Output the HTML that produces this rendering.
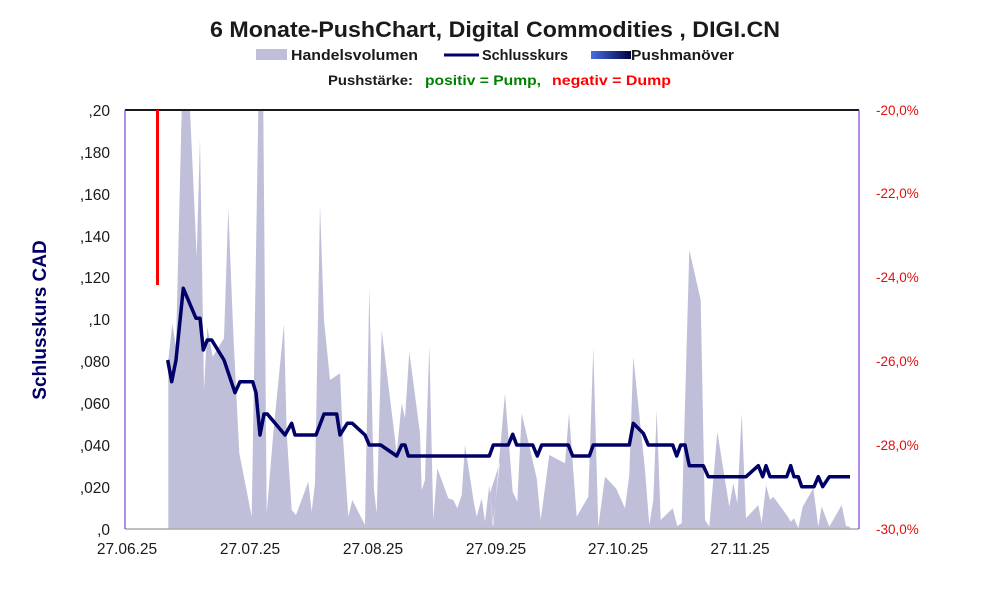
<!DOCTYPE html>
<html><head><meta charset="utf-8"><style>
body{margin:0;background:#fff;}
svg{display:block;font-family:"Liberation Sans",sans-serif;}
</style></head><body>
<svg id="s" width="991" height="593" viewBox="0 0 991 593" xmlns="http://www.w3.org/2000/svg">
<rect width="991" height="593" fill="#fff"/>
<text x="210" y="37" textLength="570" lengthAdjust="spacingAndGlyphs" font-size="22" font-weight="bold" fill="#1a1a1a">6 Monate-PushChart, Digital Commodities , DIGI.CN</text>
<rect x="256" y="49" width="31" height="11" fill="#bfbfd9"/>
<text x="291" y="60" textLength="127" lengthAdjust="spacingAndGlyphs" font-size="15" font-weight="bold" fill="#1a1a1a">Handelsvolumen</text>
<line x1="444" y1="55" x2="479" y2="55" stroke="#000066" stroke-width="3"/>
<text x="482" y="60" textLength="86" lengthAdjust="spacingAndGlyphs" font-size="15" font-weight="bold" fill="#1a1a1a">Schlusskurs</text>
<defs><linearGradient id="g" x1="0" x2="1"><stop offset="0" stop-color="#4a6ee0"/><stop offset="1" stop-color="#000044"/></linearGradient></defs>
<rect x="591" y="51" width="40" height="8" fill="url(#g)"/>
<text x="631" y="60" textLength="103" lengthAdjust="spacingAndGlyphs" font-size="15" font-weight="bold" fill="#1a1a1a">Pushmanöver</text>
<text x="328" y="85" textLength="85" lengthAdjust="spacingAndGlyphs" font-size="14" font-weight="bold" fill="#1a1a1a">Pushstärke:</text>
<text x="425" y="85" textLength="116" lengthAdjust="spacingAndGlyphs" font-size="14" font-weight="bold" fill="#008000">positiv = Pump,</text>
<text x="552" y="85" textLength="119" lengthAdjust="spacingAndGlyphs" font-size="14" font-weight="bold" fill="#ff0000">negativ = Dump</text>
<polygon id="vol" fill="#bfbfd9"/>
<line x1="125" y1="529" x2="859" y2="529" stroke="#aaa" stroke-width="1.5"/>
<line x1="125" y1="110" x2="859" y2="110" stroke="#1a1a1a" stroke-width="2"/>
<line x1="125" y1="110" x2="125" y2="529" stroke="#6a1fd0" stroke-width="1"/>
<line x1="859" y1="110" x2="859" y2="529" stroke="#6a1fd0" stroke-width="1"/>
<rect x="156" y="110" width="3" height="175" fill="#ff0000"/>
<polyline id="ln" fill="none" stroke="#000066" stroke-width="3.5" stroke-linejoin="round"/>
<g font-size="15.5" fill="#1a1a1a" text-anchor="end">
<text x="110" y="116">,20</text><text x="110" y="158">,180</text><text x="110" y="200">,160</text><text x="110" y="242">,140</text><text x="110" y="283">,120</text><text x="110" y="325">,10</text><text x="110" y="367">,080</text><text x="110" y="409">,060</text><text x="110" y="451">,040</text><text x="110" y="493">,020</text><text x="110" y="535">,0</text>
</g>
<g font-size="13.5" fill="#e01010">
<text x="876" y="115">-20,0%</text><text x="876" y="198">-22,0%</text><text x="876" y="282">-24,0%</text><text x="876" y="366">-26,0%</text><text x="876" y="450">-28,0%</text><text x="876" y="534">-30,0%</text>
</g>
<g font-size="15.5" fill="#1a1a1a" text-anchor="middle">
<text x="127" y="554">27.06.25</text><text x="250" y="554">27.07.25</text><text x="373" y="554">27.08.25</text><text x="496" y="554">27.09.25</text><text x="618" y="554">27.10.25</text><text x="740" y="554">27.11.25</text>
</g>
<text transform="translate(46,320) rotate(-90)" text-anchor="middle" font-size="19" font-weight="bold" fill="#000066">Schlusskurs CAD</text>
</svg>
<script>
var v1=[145,1288,145,780,157,672,168,740,185,30,210,30,230,470,240,115,252,870,262,680,278,770,312,715,325,325,340,700,358,1060,395,1250,415,30,430,30,440,1240,460,1000,492,672,500,1000,515,1230,528,1245,565,1145,575,1235,585,1150,600,315,612,660,630,840,660,820,668,1000,685,1250,697,1200,735,1275,748,565,762,1170,770,1240,785,690,830,1060,845,910,855,955,868,755,900,1000,905,1170,915,1140,928,735,940,1260,952,1105,985,1195,1000,1200,1012,1225,1025,1185,1035,1035,1062,1210,1070,1250,1085,1195,1095,1265,1108,1155,1118,1280,1140,1085];
var v2=[0,1180,10,1280,45,880,68,1175,82,1205,95,940,140,1135,152,1260,178,1065,225,1090,237,940,260,1250,295,1190,310,745,325,1280,345,1130,378,1165,405,1225,418,1125,430,770,465,1110,478,1275,490,1200,500,930,512,1260,548,1225,562,1278,575,1270,598,450,632,600,645,1260,658,1280,682,995,718,1220,730,1150,742,1210,755,940,768,1255,805,1215,815,1270,828,1155,840,1200,850,1190,890,1245,902,1265,912,1255,925,1285,938,1220,970,1165,985,1280,995,1220,1018,1280,1055,1215,1068,1278,1080,1280,1080,1288];
var l1=[143,780,155,845,168,780,190,565,228,655,240,655,250,750,262,720,275,720,312,780,345,878,360,845,398,845,408,878,420,1005,432,942,442,942,495,1005,515,970,525,1005,588,1005,612,942,650,942,660,1005,682,970,697,970,735,1005,748,1035,782,1035,830,1068,845,1035,855,1035,865,1068,1108,1068,1120,1035,1140,1035];
var l2=[55,1035,68,1003,80,1035,128,1035,142,1068,155,1035,235,1035,248,1068,298,1068,310,1035,418,1035,430,970,460,1000,475,1035,548,1035,560,1068,572,1035,585,1035,598,1097,640,1097,655,1130,768,1130,805,1097,818,1130,828,1097,840,1130,890,1130,902,1097,912,1130,925,1130,935,1160,972,1160,985,1130,998,1160,1018,1130,1080,1130];
function c(a,ox){var o=[];for(var i=0;i<a.length;i+=2){o.push((ox+a[i]/3).toFixed(1)+','+Math.min(529,100+a[i+1]/3).toFixed(1));}return o;}
document.getElementById('vol').setAttribute('points',c(v1,120).concat(c(v2,490)).join(' '));
document.getElementById('ln').setAttribute('points',c(l1,120).concat(c(l2,490)).join(' '));
</script>
</body></html>
